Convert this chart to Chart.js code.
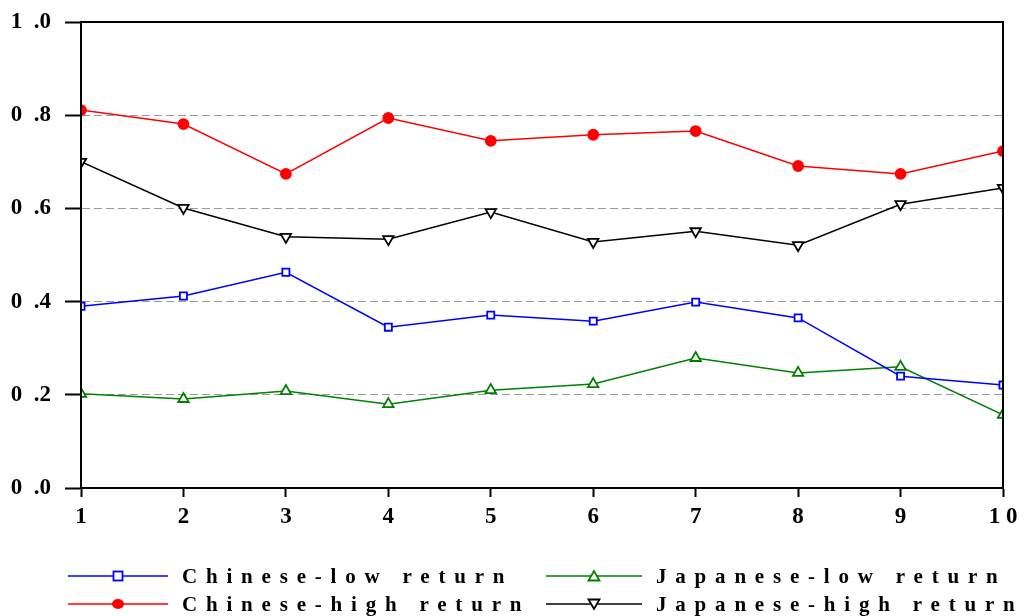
<!DOCTYPE html>
<html lang="en">
<head>
  <meta charset="UTF-8" />
  <title>Chinese and Japanese returns</title>
  <style>
    body { margin: 0; background: #fff; overflow: hidden; }
    #wrap { position: relative; width: 1029px; height: 616px; }
    #legend { position: absolute; left: 0; top: 0; width: 1029px; height: 616px; pointer-events: none;
      font-family: "Liberation Serif", "Times New Roman", serif; font-weight: bold; font-size: 21px; letter-spacing: 8.8px; color: #000; }
    .item { position: absolute; height: 28px; display: flex; align-items: center; white-space: nowrap; }
    .item svg { margin-right: 14px; flex: none; }
  </style>
  <script src="https://cdn.jsdelivr.net/npm/chart.js"></script>
</head>
<body>
  <div id="wrap">
    <canvas id="chart" width="1029" height="616"></canvas>
    <div id="legend"></div>
  </div>

  <script>
    const xLabels = ["1", "2", "3", "4", "5", "6", "7", "8", "9", "10"];
    const chineseLow   = [0.390, 0.412, 0.463, 0.345, 0.371, 0.358, 0.399, 0.365, 0.240, 0.221];
    const japaneseLow  = [0.202, 0.191, 0.208, 0.180, 0.210, 0.223, 0.279, 0.247, 0.260, 0.157];
    const chineseHigh  = [0.811, 0.781, 0.674, 0.794, 0.745, 0.758, 0.766, 0.691, 0.674, 0.723];
    const japaneseHigh = [0.700, 0.601, 0.539, 0.534, 0.592, 0.528, 0.551, 0.521, 0.609, 0.644];

    const fontFamily = '"Liberation Serif", "Times New Roman", serif';

    const series = [
      { label: "Chinese-low return", data: chineseLow, color: "#0000ff", style: "rect", fill: "#ffffff", rotation: 0, radius: 5 },
      { label: "Chinese-high return", data: chineseHigh, color: "#ff0000", style: "circle", fill: "#ff0000", rotation: 0, radius: 5 },
      { label: "Japanese-low return", data: japaneseLow, color: "#008000", style: "triangle", fill: "#ffffff", rotation: 0, radius: 6 },
      { label: "Japanese-high return", data: japaneseHigh, color: "#000000", style: "triangle", fill: "#ffffff", rotation: 180, radius: 6 }
    ];

    // box round the plot area
    const frame = {
      id: "frame",
      afterDatasetsDraw(chart) {
        const { ctx, chartArea: a } = chart;
        ctx.save();
        ctx.strokeStyle = "#000";
        ctx.lineWidth = 2;
        ctx.strokeRect(a.left, a.top, a.right - a.left, a.bottom - a.top);
        ctx.restore();
      }
    };

    new Chart(document.getElementById("chart"), {
      type: "line",
      data: {
        labels: xLabels,
        datasets: series.map(s => ({
          label: s.label,
          data: s.data,
          borderColor: s.color,
          borderWidth: 1.5,
          pointStyle: s.style,
          pointRotation: s.rotation,
          pointRadius: s.radius,
          pointBackgroundColor: s.fill,
          pointBorderColor: s.color,
          pointBorderWidth: 1.8,
          tension: 0,
          clip: 0
        }))
      },
      options: {
        responsive: false,
        animation: false,
        layout: { padding: { left: 0, top: 22, right: 26, bottom: 84 } },
        plugins: { legend: { display: false }, tooltip: { enabled: false } },
        scales: {
          x: {
            offset: false,
            grid: { drawOnChartArea: false, drawTicks: true, tickLength: 9, tickColor: "#000", tickWidth: 2, offset: false },
            border: { color: "#000", width: 2 },
            ticks: {
              color: "#000", padding: 6, maxRotation: 0, autoSkip: false,
              font: { family: fontFamily, weight: "bold", size: 23 },
              callback: function (v, i) { return xLabels[i].split("").join(" "); }
            },
            afterFit: s => { s.height = 44; s.paddingLeft = 0; s.paddingRight = 0; }
          },
          y: {
            min: 0, max: 1,
            grid: {
              color: c => (c.tick && c.tick.value > 0.01 && c.tick.value < 0.99) ? "#9a9a9a" : "rgba(0,0,0,0)",
              lineWidth: 1,
              tickColor: "#000", tickWidth: 2, tickLength: 16
            },
            border: { color: "#000", width: 2, dash: [8, 4] },
            ticks: {
              stepSize: 0.2, color: "#000", padding: 14,
              font: { family: fontFamily, weight: "bold", size: 23 },
              callback: v => v.toFixed(1).replace(".", "\u2002.")
            },
            afterFit: s => { s.width = 81; s.paddingTop = 0; s.paddingBottom = 0; }
          }
        }
      },
      plugins: [frame]
    });

    // legend below the chart, two columns
    function markerSvg(s, w) {
      const cx = w / 2, cy = 10;
      let m = "";
      if (s.style === "rect") {
        m = `<rect x="${cx - 4.5}" y="${cy - 4.5}" width="9" height="9" fill="#fff" stroke="${s.color}" stroke-width="1.8"/>`;
      } else if (s.style === "circle") {
        m = `<ellipse cx="${cx}" cy="${cy}" rx="6" ry="5" fill="${s.color}"/>`;
      } else if (s.rotation === 180) {
        m = `<polygon points="${cx - 5.5},${cy - 4.5} ${cx + 5.5},${cy - 4.5} ${cx},${cy + 5}" fill="#fff" stroke="${s.color}" stroke-width="1.8"/>`;
      } else {
        m = `<polygon points="${cx - 5.5},${cy + 4.5} ${cx + 5.5},${cy + 4.5} ${cx},${cy - 5}" fill="#fff" stroke="${s.color}" stroke-width="1.8"/>`;
      }
      return `<svg width="${w}" height="20"><line x1="0" y1="${cy}" x2="${w}" y2="${cy}" stroke="${s.color}" stroke-width="1.5"/>${m}</svg>`;
    }

    const legendPos = [
      { left: 68, top: 562 }, { left: 68, top: 590 },
      { left: 546, top: 562 }, { left: 546, top: 590 }
    ];
    const legend = document.getElementById("legend");
    // order: Chinese-low, Chinese-high (col 1), Japanese-low, Japanese-high (col 2)
    series.forEach((s, i) => {
      const div = document.createElement("div");
      div.className = "item";
      div.style.left = legendPos[i].left + "px";
      div.style.top = legendPos[i].top + "px";
      div.innerHTML = markerSvg(s, i < 2 ? 100 : 96) + `<span>${s.label}</span>`;
      legend.appendChild(div);
    });
  </script>
</body>
</html>
